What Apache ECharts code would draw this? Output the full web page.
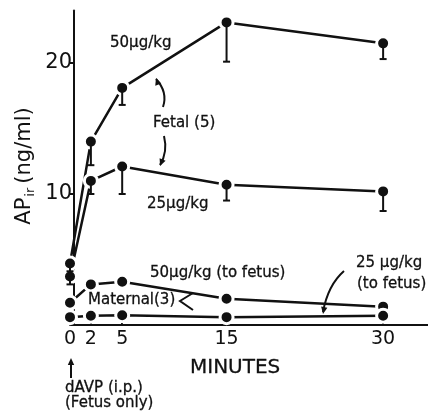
<!DOCTYPE html>
<html><head><meta charset="utf-8">
<script src="https://cdn.jsdelivr.net/npm/echarts@6/dist/echarts.min.js"></script>
<style>html,body{margin:0;padding:0;background:#fff}#c{width:428px;height:412px}</style>
</head><body><div id="c"></div>
<script>
const minutes = [0, 2, 5, 15, 30];
const xTicks = [0, 2, 5, 15, 30];
const yTicks = [10, 20];
const fetal50 = [4.7, 14.0, 18.1, 23.1, 21.5];
const fetal50Low = [4.1, 12.2, 16.8, 20.1, 20.3];
const fetal25 = [3.7, 11.0, 12.1, 10.7, 10.2];
const fetal25Low = [3.1, 10.0, 10.0, 9.5, 8.7];
const maternal50 = [1.7, 3.1, 3.3, 2.0, 1.4];
const maternal25 = [0.6, 0.7, 0.75, 0.6, 0.7];

const FONT = 'DejaVu Sans';
const INK = '#111';
const chart = echarts.init(document.getElementById('c'), null, {renderer: 'canvas'});

function lineSeries(vals) {
  return {
    type: 'line', silent: true, animation: false, z: 3,
    data: minutes.map((m, i) => [m, vals[i]]),
    symbol: 'circle', symbolSize: 13,
    itemStyle: {color: INK, borderColor: '#fff', borderWidth: 3},
    lineStyle: {color: INK, width: 2.5}
  };
}
function errSeries(vals, lows) {
  return {
    type: 'custom', silent: true, animation: false, z: 5,
    data: minutes.map((m, i) => [m, vals[i], lows[i]]),
    renderItem: function (params, api) {
      const top = api.coord([api.value(0), api.value(1)]);
      const bot = api.coord([api.value(0), api.value(2)]);
      const st = {stroke: INK, lineWidth: 2};
      return {type: 'group', children: [
        {type: 'line', shape: {x1: top[0], y1: top[1], x2: bot[0], y2: bot[1]}, style: st},
        {type: 'line', shape: {x1: bot[0] - 3.5, y1: bot[1], x2: bot[0] + 3.5, y2: bot[1]}, style: st}
      ]};
    }
  };
}

function txt(x, y, s, size, extra) {
  return Object.assign({type: 'text', x: x, y: y, z: 10,
    style: {text: s, fontFamily: FONT, fontSize: size, fill: INK, stroke: INK, lineWidth: 0.3,
      verticalAlign: 'middle', align: 'left'}}, extra || {});
}
function curve(x1, y1, cx, cy, x2, y2) {
  return {type: 'bezierCurve', z: 10, shape: {x1: x1, y1: y1, x2: x2, y2: y2, cpx1: cx, cpy1: cy},
    style: {stroke: INK, lineWidth: 2, fill: null}};
}
function head(x, y, ang) {
  const L = 7, W = 3.2;
  const bx = x - L * Math.cos(ang), by = y - L * Math.sin(ang);
  const nx = -Math.sin(ang), ny = Math.cos(ang);
  return {type: 'polygon', z: 10, shape: {points: [[x, y], [bx + W * nx, by + W * ny], [bx - W * nx, by - W * ny]]},
    style: {fill: INK}};
}

chart.setOption({
  backgroundColor: '#fff',
  animation: false,
  grid: {left: 70, right: 0, top: 10.6, bottom: 87},
  xAxis: {
    type: 'value', min: 0, max: 34.3,
    axisLine: {lineStyle: {color: INK, width: 2}},
    axisTick: {customValues: xTicks, inside: true, length: 5, lineStyle: {color: INK, width: 2}},
    axisLabel: {customValues: xTicks, color: INK, fontFamily: FONT, fontSize: 19, margin: 5},
    splitLine: {show: false}
  },
  yAxis: {
    type: 'value', min: 0, max: 24, offset: -4,
    axisLine: {onZero: false, lineStyle: {color: INK, width: 2}},
    axisTick: {customValues: yTicks, length: 5, lineStyle: {color: INK, width: 2}},
    axisLabel: {customValues: yTicks, color: INK, fontFamily: FONT, fontSize: 21, margin: 2},
    splitLine: {show: false}
  },
  series: [
    lineSeries(fetal50), lineSeries(fetal25), lineSeries(maternal50), lineSeries(maternal25),
    errSeries(fetal50, fetal50Low), errSeries(fetal25, fetal25Low)
  ],
  graphic: [
    txt(110, 43, '50\u00b5g/kg', 15),
    txt(153, 123, 'Fetal (5)', 15),
    txt(147, 204, '25\u00b5g/kg', 15),
    txt(150, 273, '50\u00b5g/kg (to fetus)', 15),
    txt(88, 300, 'Maternal(3)', 15),
    txt(356, 263, '25 \u00b5g/kg', 15),
    txt(357, 284, '(to fetus)', 15),
    txt(190, 368, 'MINUTES', 20),
    txt(65, 388, 'dAVP (i.p.)', 15),
    txt(65, 403, '(Fetus only)', 15),
    {type: 'text', x: 25, y: 166, rotation: Math.PI / 2, z: 10,
      style: {text: '{a|AP}{s|ir}{a|(ng/ml)}', align: 'center', verticalAlign: 'middle',
        rich: {a: {fontFamily: FONT, fontSize: 21, fill: INK, color: INK},
               s: {fontFamily: FONT, fontSize: 13, fill: INK, color: INK, verticalAlign: 'bottom', padding: [12, 4, 0, 1]}}}},
    curve(163, 107, 168, 92, 156, 79), head(156, 78, -1.9),
    curve(164, 136, 168, 152, 160, 165), head(160, 166, 1.95),
    curve(344, 271, 328, 285, 323, 312), head(323, 314, 1.75),
    {type: 'polyline', z: 10, shape: {points: [[193, 293], [180, 301], [193, 310]]}, style: {stroke: INK, lineWidth: 2, fill: null}},
    {type: 'line', z: 10, shape: {x1: 71, y1: 378, x2: 71, y2: 362}, style: {stroke: INK, lineWidth: 2}},
    head(71, 358, -Math.PI / 2)
  ]
});
</script></body></html>
